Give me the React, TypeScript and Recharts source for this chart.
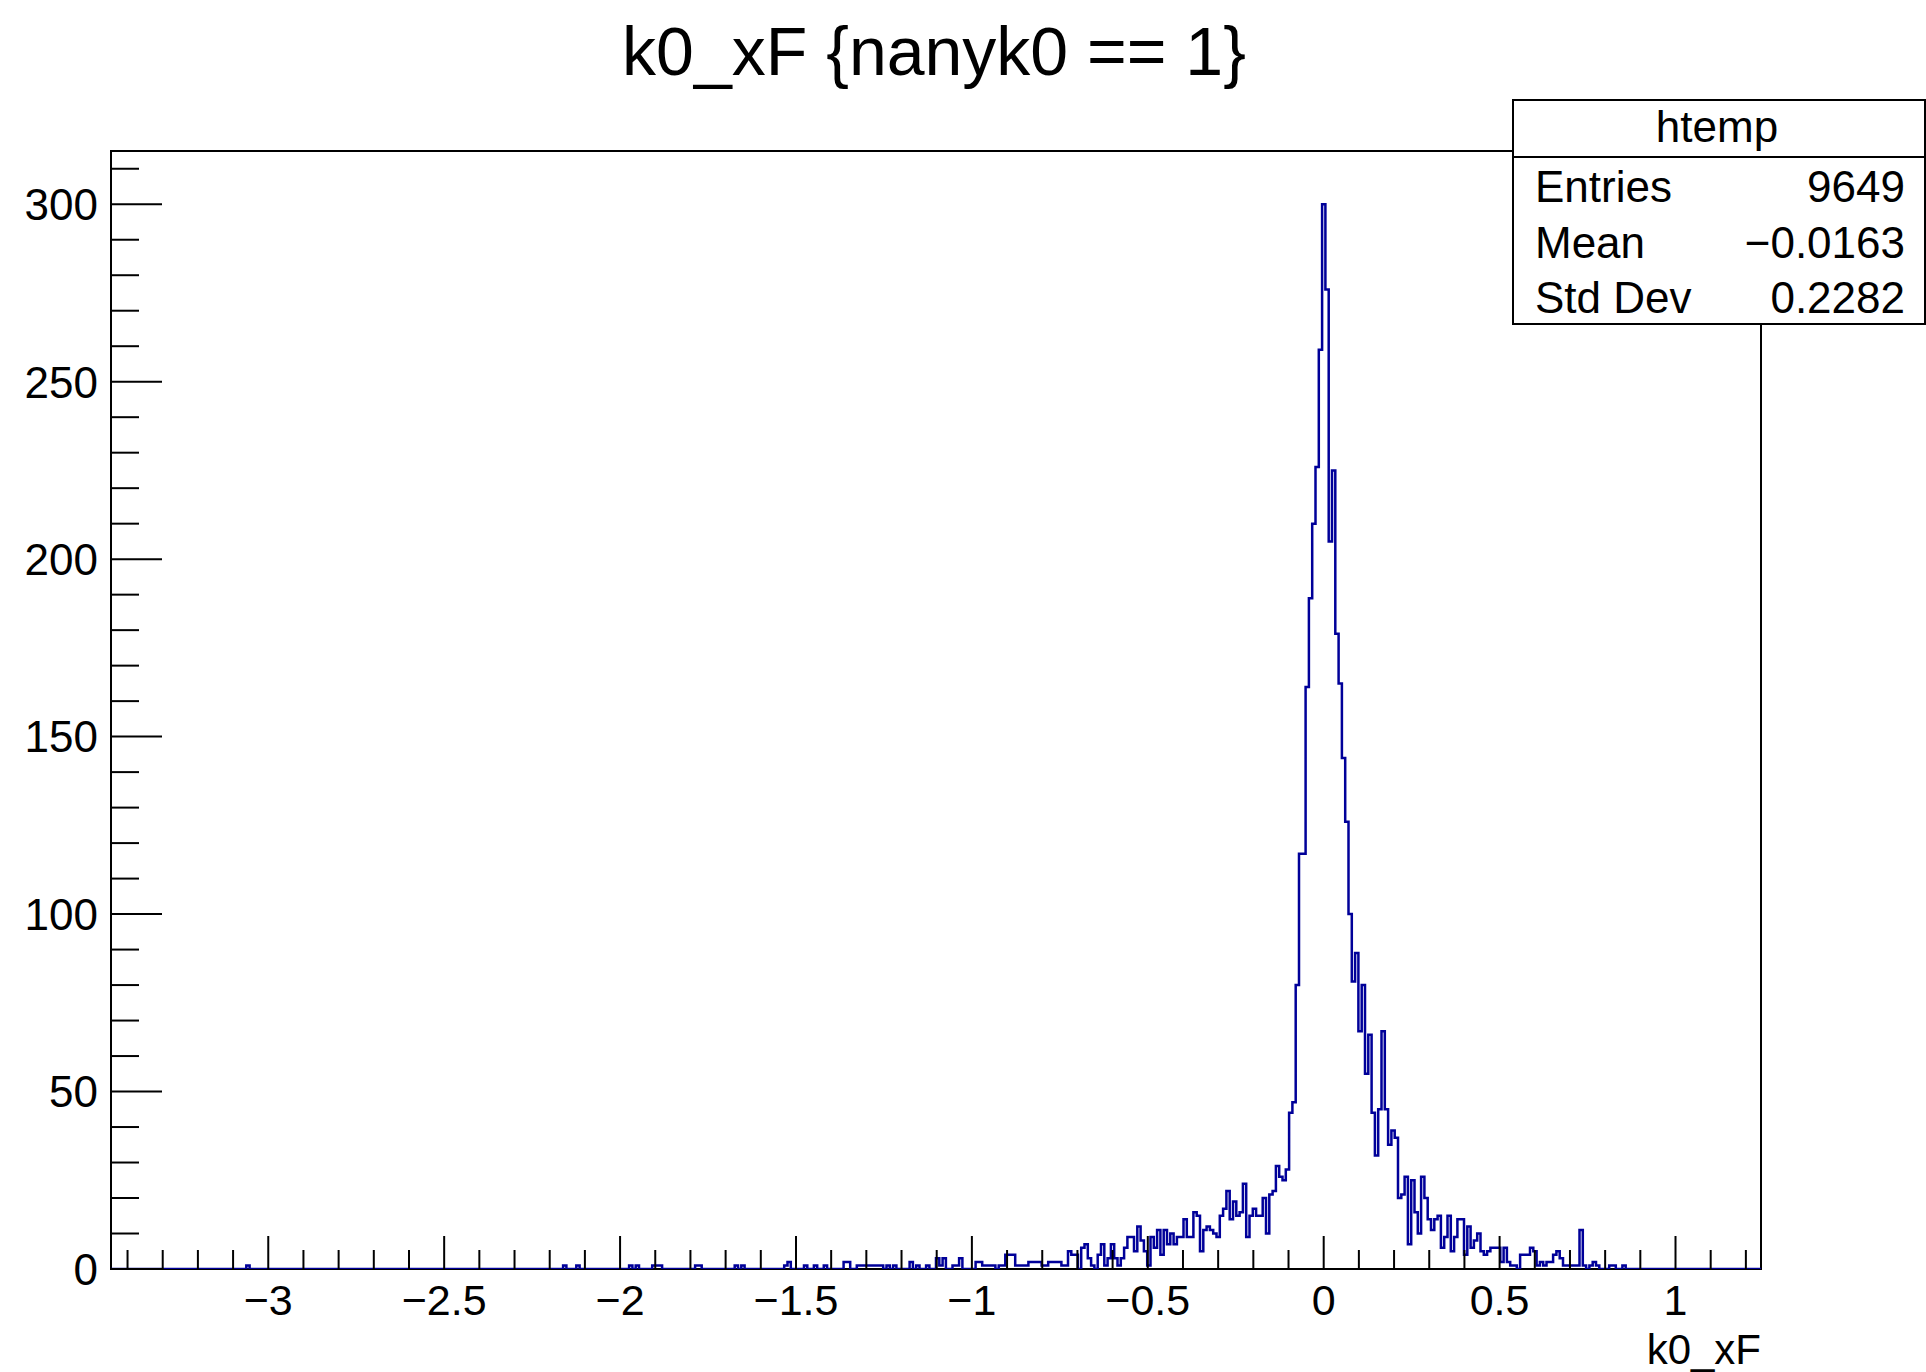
import { LineChart, Line, XAxis, YAxis, ReferenceArea } from 'recharts';

const FONT = '"Liberation Sans", Arial, Helvetica, sans-serif';
const HIST_COLOR = '#000099';

// histogram binning (htemp, 500 bins)
const X_MIN = -3.447;
const BIN_W = 0.00938;
const N_BINS = 500;
const X_MAX = X_MIN + N_BINS * BIN_W;
const Y_MAX = 315;

// isolated entries far out in the left tail
const tailHitX = [
  -3.058, -2.157, -2.12, -1.97, -1.951, -1.904, -1.895, -1.885, -1.782, -1.773,
  -1.67, -1.651, -1.529, -1.519, -1.473, -1.444, -1.416
];
const tailHitCounts = [1, 1, 1, 1, 1, 1, 1, 1, 1, 1, 1, 1, 1, 2, 1, 1, 1];

// contiguous bin contents, first bin centred at CORE_START_X
const CORE_START_X = -1.36;
const coreCounts = [
  2, 2, 0, 0, 1, 1, 1, 1, 1, 1,
  1, 1, 0, 1, 0, 1, 0, 0, 0, 0,
  2, 0, 1, 0, 0, 1, 0, 0, 3, 1,
  3, 0, 0, 1, 1, 3, 0, 0, 0, 0,
  2, 2, 1, 1, 1, 1, 0, 1, 1, 4,
  4, 4, 1, 1, 1, 1, 2, 2, 2, 2,
  1, 1, 2, 2, 2, 2, 1, 1, 5, 4,
  4, 0, 6, 7, 3, 1, 0, 4, 7, 1,
  3, 7, 3, 1, 3, 6, 9, 9, 5, 12,
  8, 5, 1, 9, 6, 11, 4, 11, 7, 10,
  7, 9, 9, 14, 9, 9, 16, 15, 5, 11,
  12, 11, 10, 9, 15, 17, 22, 14, 19, 15,
  16, 24, 9, 15, 17, 15, 15, 20, 10, 21,
  22, 29, 26, 25, 28, 44, 47, 80, 117, 117,
  164, 189, 210, 226, 259, 300, 276, 205, 225, 179,
  165, 144, 126, 100, 81, 89, 67, 80, 55, 66,
  44, 32, 45, 67, 45, 35, 39, 37, 20, 21,
  26, 7, 25, 16, 10, 26, 20, 14, 11, 14,
  15, 6, 9, 15, 5, 9, 14, 14, 4, 12,
  6, 8, 10, 5, 4, 5, 6, 6, 6, 2,
  6, 2, 1, 1, 0, 4, 4, 4, 6, 5,
  1, 2, 1, 2, 2, 4, 5, 3, 1, 1,
  1, 1, 1, 11, 1, 0, 1, 2, 1, 0,
  0, 0, 1, 1, 0, 0, 1
];

const xMajorTicks = [-3, -2.5, -2, -1.5, -1, -0.5, 0, 0.5, 1];
const xTicks: number[] = [];
for (let k = -34; k <= 12; k++) xTicks.push(k / 10);
const yMajorTicks = [0, 50, 100, 150, 200, 250, 300];
const yTicks: number[] = [];
for (let k = 0; k <= 31; k++) yTicks.push(k * 10);

const statsRows = [
  { label: 'Entries', value: '9649' },
  { label: 'Mean', value: '\u22120.0163' },
  { label: 'Std Dev', value: '0.2282' }
];

function binIndex(x: number) {
  return Math.floor((x - X_MIN) / BIN_W);
}

function buildBins() {
  const counts: number[] = new Array(N_BINS).fill(0);
  tailHitX.forEach((x, k) => {
    counts[binIndex(x)] += tailHitCounts[k];
  });
  const first = binIndex(CORE_START_X);
  coreCounts.forEach((c, k) => {
    counts[first + k] = c;
  });
  const rows = counts.map((c, i) => ({ x: X_MIN + i * BIN_W, count: c }));
  rows.push({ x: X_MAX, count: counts[N_BINS - 1] });
  return rows;
}

const fmt = (v: number) => (v < 0 ? '\u2212' + String(-v) : String(v));
const isMajorX = (v: number) => xMajorTicks.some((m) => Math.abs(m - v) < 1e-6);

function XTick(props: any) {
  const { x, y, payload } = props;
  const major = isMajorX(payload.value);
  return (
    <g>
      <line x1={x} x2={x} y1={y} y2={y - (major ? 33 : 19)} stroke="#000" strokeWidth={2} />
      {major && (
        <text x={x} y={y + 46} textAnchor="middle" fontSize={43} fontFamily={FONT} fill="#000">
          {fmt(payload.value)}
        </text>
      )}
    </g>
  );
}

function YTick(props: any) {
  const { x, y, payload } = props;
  const major = yMajorTicks.includes(payload.value);
  return (
    <g>
      <line x1={x} x2={x + (major ? 51 : 28)} y1={y} y2={y} stroke="#000" strokeWidth={2} />
      {major && (
        <text x={x - 13} y={y} dy="0.36em" textAnchor="end" fontSize={44} fontFamily={FONT} fill="#000">
          {payload.value}
        </text>
      )}
    </g>
  );
}

export default function App() {
  const data = buildBins();
  return (
    <div style={{ position: 'absolute', left: 0, top: 0, width: 1926, height: 1372, background: '#fff' }}>
      <LineChart width={1926} height={1372} data={data} margin={{ top: 151, right: 165, bottom: 43, left: 51 }}>
        <XAxis
          dataKey="x"
          type="number"
          domain={[X_MIN, X_MAX]}
          allowDataOverflow
          ticks={xTicks}
          interval={0}
          tickLine={false}
          axisLine={false}
          tickSize={0}
          tickMargin={0}
          height={60}
          tick={<XTick />}
        />
        <YAxis
          type="number"
          domain={[0, Y_MAX]}
          allowDataOverflow
          ticks={yTicks}
          interval={0}
          tickLine={false}
          axisLine={false}
          tickSize={0}
          tickMargin={0}
          width={60}
          tick={<YTick />}
        />
        <Line
          type="stepAfter"
          dataKey="count"
          stroke={HIST_COLOR}
          strokeWidth={2.5}
          dot={false}
          activeDot={false}
          isAnimationActive={false}
        />
        <ReferenceArea
          x1={X_MIN}
          x2={X_MAX}
          y1={0}
          y2={Y_MAX}
          fill="none"
          stroke="#000"
          strokeWidth={2}
          ifOverflow="visible"
        />
      </LineChart>
      <svg
        width={1926}
        height={1372}
        style={{ position: 'absolute', left: 0, top: 0, pointerEvents: 'none' }}
        fontFamily={FONT}
      >
        <text x={934} y={75} textAnchor="middle" fontSize={68} fill="#000">
          k0_xF {'{'}nanyk0 == 1{'}'}
        </text>
        <text x={1761} y={1364} textAnchor="end" fontSize={42} fill="#000">
          k0_xF
        </text>
        <rect x={1513} y={100} width={412} height={224} fill="#fff" stroke="#000" strokeWidth={2} />
        <line x1={1513} x2={1925} y1={157} y2={157} stroke="#000" strokeWidth={2} />
        <text x={1717} y={142} textAnchor="middle" fontSize={44} fill="#000">
          htemp
        </text>
        {statsRows.map((r, i) => (
          <g key={r.label}>
            <text x={1535} y={202 + i * 55.5} fontSize={44} fill="#000">
              {r.label}
            </text>
            <text x={1905} y={202 + i * 55.5} textAnchor="end" fontSize={44} fill="#000">
              {r.value}
            </text>
          </g>
        ))}
      </svg>
    </div>
  );
}
